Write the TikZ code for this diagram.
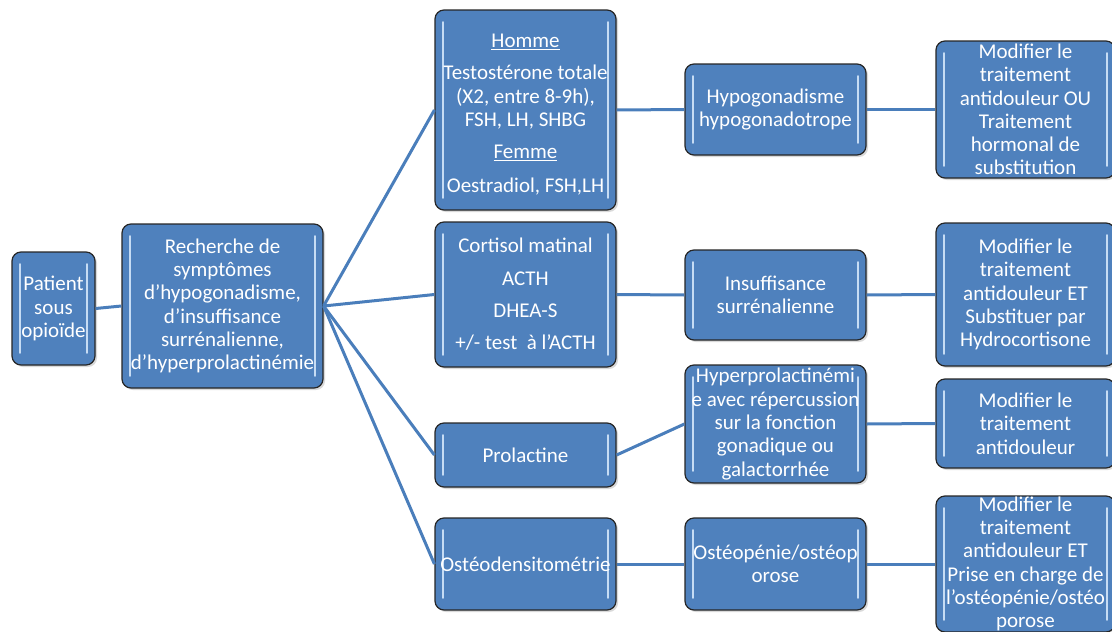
\documentclass[tikz,border=0pt]{standalone}
\usepackage{fontspec}
\setmainfont{Carlito}
\usetikzlibrary{positioning}
\usetikzlibrary{shadows}
\definecolor{boxblue}{HTML}{4F81BD}
\definecolor{linkblue}{HTML}{4A7EBB}
\definecolor{glossblue}{HTML}{C6DCF4}
\tikzset{
  box/.style={draw=black!85, line width=1.2pt, fill=boxblue, rounded corners=9pt,
    text=white, align=center, inner sep=0pt, minimum width=181pt,
    font=\fontsize{21}{23.3}\selectfont,
    drop shadow={opacity=0.3, shadow xshift=2pt, shadow yshift=-2pt},
    path picture={
      \draw[glossblue, line width=1.6pt, line cap=round]
        ([xshift=8pt,yshift=-12pt]path picture bounding box.north west) --
        ([xshift=8pt,yshift=12pt]path picture bounding box.south west);
      \draw[glossblue, line width=1.6pt, line cap=round]
        ([xshift=-8pt,yshift=-12pt]path picture bounding box.north east) --
        ([xshift=-8pt,yshift=12pt]path picture bounding box.south east);
    }},
  link/.style={draw=linkblue, line width=3pt},
}

\begin{document}
\begin{tikzpicture}[x=1pt,y=-1pt]
  \useasboundingbox (0,0) rectangle (1112,632);

  % first column
  \node[box, minimum width=83pt, minimum height=113pt] (patient) at (53.5,308.5) {Patient\\sous\\opioïde};
  \node[box, minimum width=201pt, minimum height=164pt] (recherche) at (222.5,306) {Recherche de\\symptômes\\d’hypogonadisme,\\d’insuffisance\\surrénalienne,\\d’hyperprolactinémie};

  % examens
  \node[box, minimum height=200pt] (dosages) at (525.5,110) {\rule{0pt}{23pt}\underline{Homme}\\[9pt]Testostérone totale\\(X2, entre 8-9h),\\FSH, LH, SHBG\\[9pt]\underline{Femme}\\[11pt]Oestradiol, FSH,LH};
  \node[box, minimum height=145pt] (cortisol) at (525.5,294.5) {Cortisol matinal\\[9pt]ACTH\\[9pt]DHEA-S\\[9pt]+/- test~ à l’ACTH};
  \node[box, minimum height=64pt] (prolactine) at (525.5,455) {Prolactine};
  \node[box, minimum height=92pt] (densito) at (525.5,564) {Ostéodensitométrie};

  % diagnostics
  \node[box, minimum height=91pt] (hypogo) at (775.5,109.5) {Hypogonadisme\\hypogonadotrope};
  \node[box, minimum height=90pt] (insuff) at (775.5,295) {Insuffisance\\surrénalienne};
  \node[box, minimum height=118pt] (hyperprl) at (775.5,424) {Hyperprolactinémi\\e avec répercussion\\sur la fonction\\gonadique ou\\galactorrhée};
  \node[box, minimum height=92pt] (osteopenie) at (775.5,564) {Ostéopénie/ostéop\\orose};

  % conduites
  \node[box, minimum width=179pt, minimum height=137pt] (trt1) at (1025.5,109.5) {Modifier le\\traitement\\antidouleur OU\\Traitement\\hormonal de\\substitution};
  \node[box, minimum width=179pt, minimum height=143pt] (trt2) at (1025.5,294.5) {Modifier le\\traitement\\antidouleur ET\\Substituer par\\Hydrocortisone};
  \node[box, minimum width=179pt, minimum height=89pt] (trt3) at (1025.5,423.5) {Modifier le\\traitement\\antidouleur};
  \node[box, minimum width=179pt, minimum height=136pt] (trt4) at (1025.5,564) {Modifier le\\traitement\\antidouleur ET\\Prise en charge de\\l’ostéopénie/ostéo\\porose};

  % liaisons
  \draw[link] (patient.east) -- (recherche.west);
  \foreach \exam in {dosages,cortisol,prolactine,densito}
    \draw[link] (recherche.east) -- (\exam.west);
  \draw[link] (dosages.east) -- (hypogo.west);
  \draw[link] (cortisol.east) -- (insuff.west);
  \draw[link] (prolactine.east) -- (hyperprl.west);
  \draw[link] (densito.east) -- (osteopenie.west);
  \draw[link] (hypogo.east) -- (trt1.west);
  \draw[link] (insuff.east) -- (trt2.west);
  \draw[link] (hyperprl.east) -- (trt3.west);
  \draw[link] (osteopenie.east) -- (trt4.west);
\end{tikzpicture}
\end{document}
